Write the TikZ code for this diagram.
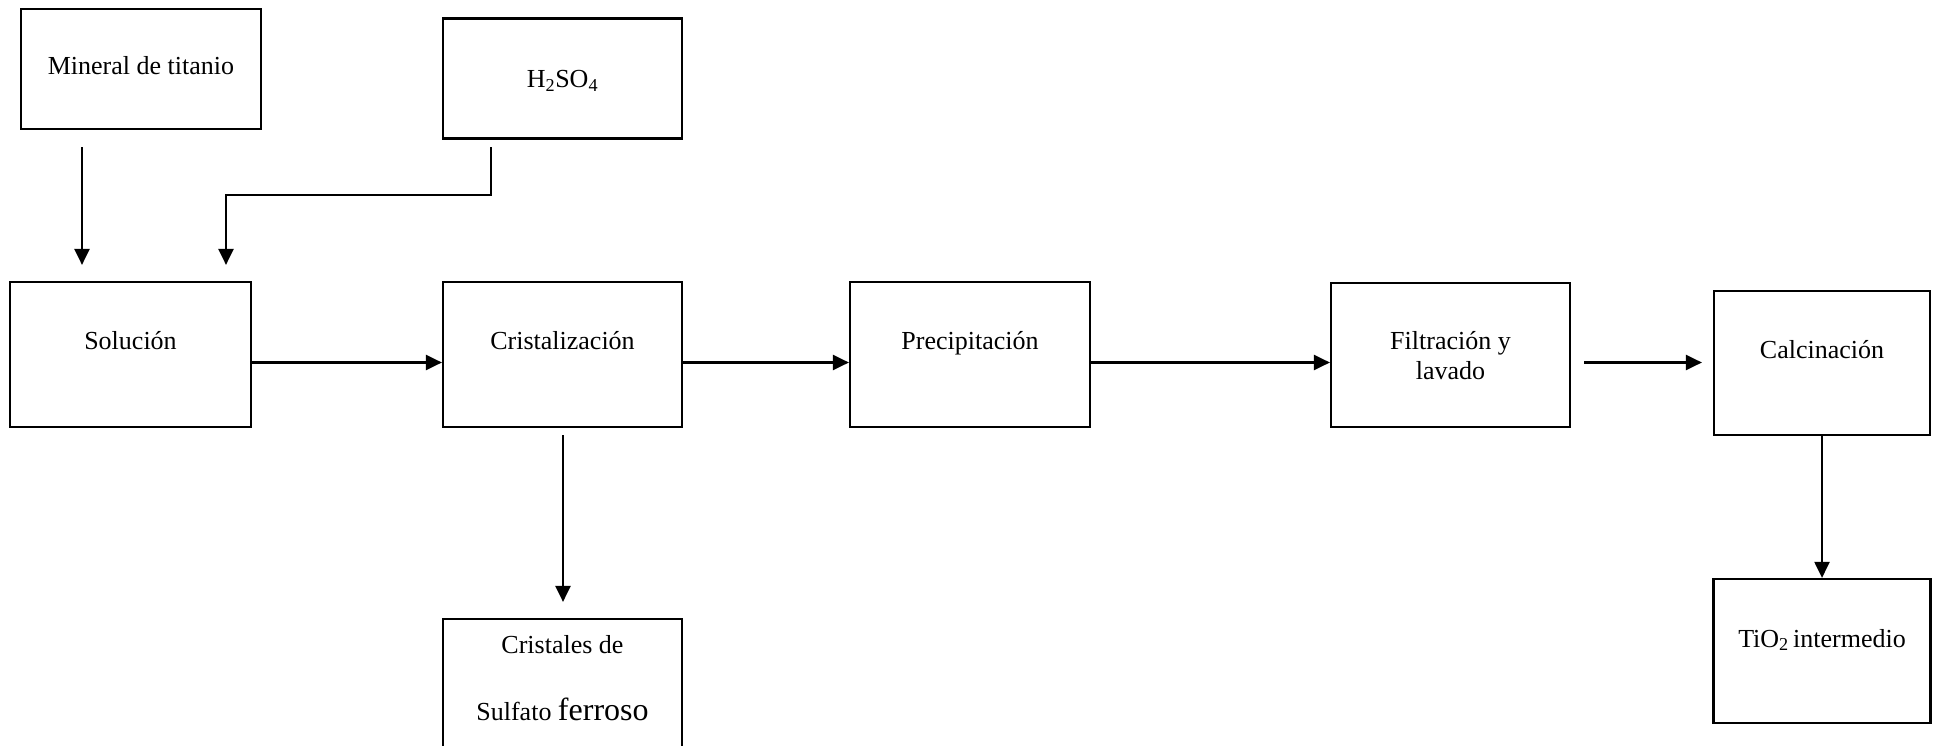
\documentclass[tikz,border=0pt]{standalone}
\usepackage{fontspec}
\setmainfont{Liberation Serif}
\usetikzlibrary{arrows.meta,calc}
\begin{document}
\begin{tikzpicture}[x=1pt,y=-1pt,
  box/.style={draw,line width=2.2pt,inner sep=0pt},
  txt/.style={font=\fontsize{26}{30}\selectfont,anchor=base,inner sep=0pt},
  arr/.style={line width=2.2pt,-{Triangle[length=16pt,width=15pt]}}]
\clip (0,0) rectangle (1940,746);
\fill[white] (0,0) rectangle (1940,746);
% boxes
\node[box,minimum width=240,minimum height=120] (min) at (141,69) {};
\node[box,minimum width=239,minimum height=120] (acid) at (562.5,78.6) {};
\node[box,minimum width=241,minimum height=145] (sol) at (130.5,354.5) {};
\node[box,minimum width=239,minimum height=145] (cri) at (562.5,354.5) {};
\node[box,minimum width=240,minimum height=145] (pre) at (970,354.5) {};
\node[box,minimum width=239,minimum height=144] (fil) at (1450.5,355) {};
\node[box,minimum width=216,minimum height=144] (cal) at (1822,363) {};
\node[box,minimum width=217,minimum height=144] (tio) at (1822,651) {};
\node[box,minimum width=239,minimum height=171] (cfs) at (562.5,704.5) {};
% texts
\node[txt] (tmin) at (141,75) {Mineral de titanio};
\node[txt] (tacid) at (562.5,88) {H\textsubscript{2}SO\textsubscript{4}};
\node[txt] (tsol) at (130.5,349) {Solución};
\node[txt] (tcri) at (562.5,349) {Cristalización};
\node[txt] (tpre) at (970,349) {Precipitación};
\node[txt] (tfil1) at (1450.5,349) {Filtración y};
\node[txt] (tfil2) at (1450.5,379) {lavado};
\node[txt] (tcal) at (1822,358) {Calcinación};
\node[txt] (ttio) at (1822,647) {TiO\textsubscript{2}\,intermedio};
\node[txt] (tcfs1) at (562.5,653) {Cristales de};
\node[txt] (tcfs2) at (562.5,720) {Sulfato {\fontsize{32}{36}\selectfont ferroso}};
% connectors
\draw[arr] ($(min.south)+(-59,17)$) -- ($(sol.north)+(-48.5,-16)$);
\draw[arr] ($(acid.south)+(-71.5,7.4)$) |- ($(acid.south)+(-71.5,55.4)$)
  -| ($(sol.north)+(95.5,-16)$);
\draw[arr] ([yshift=-8pt]sol.east) -- ([yshift=-8pt]cri.west);
\draw[arr] ([yshift=-8pt]cri.east) -- ([yshift=-8pt]pre.west);
\draw[arr] ([yshift=-8pt]pre.east) -- ([yshift=-8pt]pre.east -| fil.west);
\draw[arr] ($(fil.east)+(13,7.5)$) -- ($(cal.west)+(-11,-0.5)$);
\draw[arr] ($(cri.south)+(0.5,7)$) -- ($(cfs.north)+(0.5,-16)$);
\draw[arr] (cal.south) -- (tio.north);
\end{tikzpicture}
\end{document}
